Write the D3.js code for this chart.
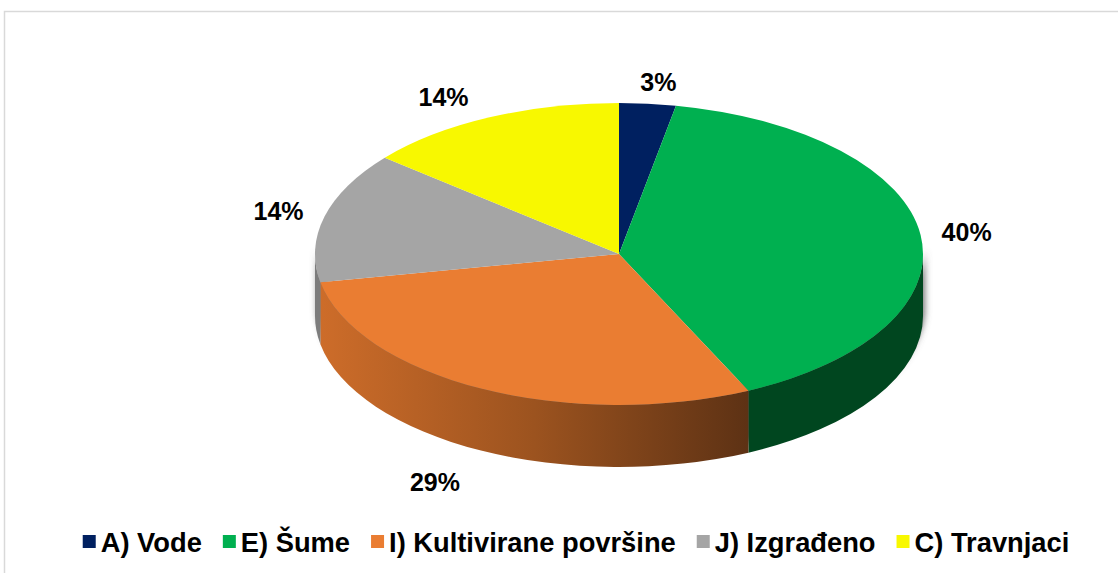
<!DOCTYPE html>
<html>
<head>
<meta charset="utf-8">
<script src="https://d3js.org/d3.v7.min.js"></script>
<style>
  body { margin: 0; background: #fff; font-family: "Liberation Sans", Arial, Helvetica, sans-serif; }
</style>
</head>
<body>
<svg id="chart" width="1118" height="573"></svg>
<script>
// data
const categories = ["A) Vode", "E) Šume", "I) Kultivirane površine", "J) Izgrađeno", "C) Travnjaci"];
const values = [3, 40, 29, 14, 14];
const labels = ["3%", "40%", "29%", "14%", "14%"];
const topColors = ["#002060", "#00B050", "#EA7D32", "#A5A5A5", "#F8F800"];
const sideColors = ["#001338", "#00461F", "url(#orangeSide)", "#7c7c7c", "#b8b800"];

const svg = d3.select("#chart");
const cx = 619, cy = 254, rx = 304, ry = 151, depth = 62;

// frame
svg.append("rect").attr("x", 4.5).attr("y", 11.5).attr("width", 1300).attr("height", 800)
  .attr("fill", "none").attr("stroke", "#d9d9d9").attr("stroke-width", 1.5);

const defs = svg.append("defs");
const grad = defs.append("linearGradient").attr("id", "orangeSide")
  .attr("gradientUnits", "userSpaceOnUse")
  .attr("x1", cx - rx).attr("x2", cx + rx * 0.44).attr("y1", 0).attr("y2", 0);
grad.append("stop").attr("offset", 0).attr("stop-color", "#CE6D2A");
grad.append("stop").attr("offset", 0.5).attr("stop-color", "#9C531F");
grad.append("stop").attr("offset", 1).attr("stop-color", "#5C3114");

const blur = defs.append("filter").attr("id", "shadow")
  .attr("x", "-10%").attr("y", "-10%").attr("width", "120%").attr("height", "130%");
blur.append("feGaussianBlur").attr("stdDeviation", 3.5);

const pie = d3.pie().sort(null).value(d => d);
const arcs = pie(values);

function pt(a, dy) {
  return [cx + rx * Math.sin(a), cy - ry * Math.cos(a) + (dy || 0)];
}

function topPath(d) {
  const p0 = pt(d.startAngle), p1 = pt(d.endAngle);
  const large = d.endAngle - d.startAngle > Math.PI ? 1 : 0;
  return `M${cx},${cy}L${p0[0]},${p0[1]}A${rx},${ry} 0 ${large} 1 ${p1[0]},${p1[1]}Z`;
}

function sidePath(a0, a1) {
  const p0 = pt(a0), p1 = pt(a1), q1 = pt(a1, depth), q0 = pt(a0, depth);
  return `M${p0[0]},${p0[1]}A${rx},${ry} 0 0 1 ${p1[0]},${p1[1]}` +
    `L${q1[0]},${q1[1]}A${rx},${ry} 0 0 0 ${q0[0]},${q0[1]}Z`;
}

// shadow under the pie
svg.append("path")
  .attr("d", sidePath(Math.PI / 2 - 0.05, Math.PI * 1.5 + 0.05))
  .attr("transform", "translate(2,4)")
  .attr("fill", "#6a6a6a")
  .attr("filter", "url(#shadow)");

// sides (front half only)
arcs.forEach((d, i) => {
  const a0 = Math.max(d.startAngle, Math.PI / 2);
  const a1 = Math.min(d.endAngle, Math.PI * 1.5);
  if (a1 > a0) {
    svg.append("path").attr("d", sidePath(a0, a1)).attr("fill", sideColors[i]);
  }
});

// tops
svg.selectAll("path.top").data(arcs).enter().append("path")
  .attr("class", "top")
  .attr("d", topPath)
  .attr("fill", (d, i) => topColors[i]);

// data labels, placed just outside the rim
svg.selectAll("text.lbl").data(arcs).enter().append("text")
  .attr("class", "lbl")
  .attr("x", d => {
    const s = Math.sin((d.startAngle + d.endAngle) / 2);
    return cx + rx * s + 46 * Math.sign(s) * Math.min(1, Math.abs(s) * 2.5);
  })
  .attr("y", d => {
    const c = Math.cos((d.startAngle + d.endAngle) / 2);
    return cy - (ry + 22) * c + (c < 0 ? depth + 12 : 0);
  })
  .attr("text-anchor", "middle")
  .attr("dominant-baseline", "central")
  .attr("font-size", 25)
  .attr("font-weight", "bold")
  .attr("fill", "#000")
  .text((d, i) => labels[i]);

// legend
const leg = svg.append("g");
let x = 0;
categories.forEach((c, i) => {
  leg.append("rect").attr("x", x).attr("y", -7).attr("width", 13).attr("height", 13).attr("fill", topColors[i]);
  const t = leg.append("text").attr("x", x + 18).attr("y", 10)
    .attr("font-size", 27.3).attr("font-weight", "bold").attr("fill", "#000").text(c);
  x += 18 + t.node().getComputedTextLength() + 21;
});
const legW = x - 21;
leg.attr("transform", `translate(${576 - legW / 2},542)`);
</script>
</body>
</html>
